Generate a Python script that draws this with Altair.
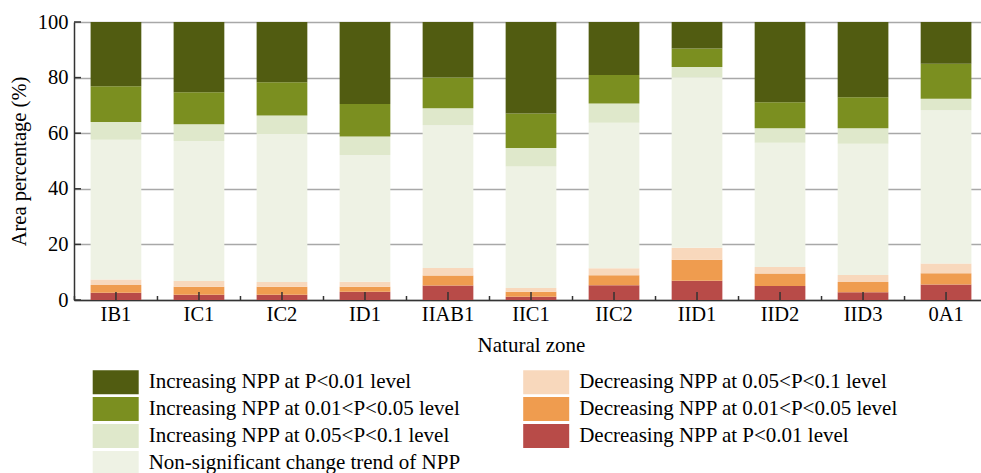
import altair as alt
import pandas as pd

zones = ["IB1", "IC1", "IC2", "ID1", "IIAB1", "IIC1", "IIC2", "IID1", "IID2", "IID3", "0A1"]

# Stack order from bottom to top
cat_dec_001 = "Decreasing NPP at P<0.01 level"
cat_dec_005 = "Decreasing NPP at 0.01<P<0.05 level"
cat_dec_01 = "Decreasing NPP at 0.05<P<0.1 level"
cat_nonsig = "Non-significant change trend of NPP"
cat_inc_01 = "Increasing NPP at 0.05<P<0.1 level"
cat_inc_005 = "Increasing NPP at 0.01<P<0.05 level"
cat_inc_001 = "Increasing NPP at P<0.01 level"

dec_001 = [2.6, 1.9, 1.9, 3.0, 5.2, 1.2, 5.3, 6.9, 5.0, 2.8, 5.6]
dec_005 = [2.8, 2.9, 2.9, 1.8, 3.6, 1.8, 3.6, 7.6, 4.5, 3.7, 4.0]
dec_01 = [2.0, 2.0, 1.7, 1.8, 2.7, 1.3, 2.5, 4.3, 2.4, 2.5, 3.5]
nonsig = [50.2, 50.4, 53.2, 45.6, 51.4, 43.7, 52.4, 61.2, 44.7, 47.2, 55.2]
inc_01 = [6.4, 6.0, 6.7, 6.6, 6.1, 6.7, 6.9, 3.8, 5.2, 5.6, 4.1]
inc_005 = [12.9, 11.5, 11.9, 11.7, 11.0, 12.4, 10.2, 6.7, 9.3, 11.1, 12.6]
inc_001 = [23.1, 25.3, 21.7, 29.5, 20.0, 32.9, 19.1, 9.5, 28.9, 27.1, 15.0]

stack_cats = [cat_dec_001, cat_dec_005, cat_dec_01, cat_nonsig, cat_inc_01, cat_inc_005, cat_inc_001]
stack_vals = [dec_001, dec_005, dec_01, nonsig, inc_01, inc_005, inc_001]

# Legend order (filled column by column)
legend_order = [cat_inc_001, cat_inc_005, cat_inc_01, cat_nonsig, cat_dec_01, cat_dec_005, cat_dec_001]
legend_colors = ["#515c11", "#7b8f20", "#dfe8cb", "#eef2e4", "#f8d8bc", "#ef9c4f", "#b84b48"]

y_ticks = [0, 20, 40, 60, 80, 100]

rows = []
for i, (c, vals) in enumerate(zip(stack_cats, stack_vals)):
    for z, v in zip(zones, vals):
        rows.append({"zone": z, "category": c, "value": v, "order": i})
df = pd.DataFrame(rows)
zdf = pd.DataFrame({"zone": zones})
ydf = pd.DataFrame({"tick": y_ticks})

FONT = "Liberation Serif"
W, H = 907, 278

xscale = alt.Scale(domain=zones, range=[0, 914], paddingInner=0.389, paddingOuter=0.2)
yscale = alt.Scale(domain=[0, 100], nice=False)

bars = alt.Chart(df).mark_bar(strokeWidth=0).encode(
    x=alt.X("zone:N", scale=xscale, sort=zones,
            axis=alt.Axis(title="Natural zone", labelAngle=0, ticks=False, labelPadding=4,
                          titlePadding=10, domainColor="#333333", domainWidth=1.5,
                          labelFont=FONT, labelFontSize=20.5, labelColor="black",
                          titleFont=FONT, titleFontSize=21, titleFontWeight="normal",
                          titleColor="black", grid=False)),
    y=alt.Y("value:Q", stack="zero", scale=yscale,
            axis=alt.Axis(title="Area percentage (%)", values=y_ticks, ticks=False, labelPadding=6,
                          titlePadding=8, domainColor="#333333", domainWidth=1.5,
                          gridColor="#a8a8a8", gridWidth=1.5,
                          labelFont=FONT, labelFontSize=20.5, labelColor="black",
                          titleFont=FONT, titleFontSize=20.5, titleFontWeight="normal",
                          titleColor="black")),
    color=alt.Color("category:N", scale=alt.Scale(domain=legend_order, range=legend_colors),
                    legend=alt.Legend(title=None, orient="none", legendX=30.2, legendY=348.5,
                                      columns=2, columnPadding=61.5, rowPadding=2,
                                      symbolType="M-2,-1.04H2V1.04H-2Z", symbolSize=529,
                                      symbolStrokeWidth=0, symbolOpacity=1,
                                      labelFont=FONT, labelFontSize=21, labelColor="black",
                                      labelOffset=21.5, labelLimit=0, padding=0)),
    order=alt.Order("order:Q", sort="ascending"),
)

center_ticks = alt.Chart(zdf).mark_rule(color="#333333", strokeWidth=1.5).encode(
    x=alt.X("zone:N", scale=xscale, sort=zones),
    y=alt.value(H), y2=alt.value(H - 8),
)
boundary_ticks = alt.Chart(zdf).mark_rule(color="#333333", strokeWidth=1.5, xOffset=-41.5).encode(
    x=alt.X("zone:N", scale=xscale, sort=zones),
    y=alt.value(H), y2=alt.value(H - 4),
)
ytick_marks = alt.Chart(ydf).mark_rule(color="#333333", strokeWidth=1.5).encode(
    y=alt.Y("tick:Q", scale=yscale),
    x=alt.value(0), x2=alt.value(7),
)

chart = alt.layer(bars, center_ticks, boundary_ticks, ytick_marks).properties(
    width=W, height=H,
    autosize=alt.AutoSizeParams(type="none"),
    padding={"left": 74, "top": 22, "right": 0, "bottom": 173},
).configure_view(stroke=None).configure(background="white")

chart.save("out.html", embed_options={"renderer": "svg", "actions": False})
